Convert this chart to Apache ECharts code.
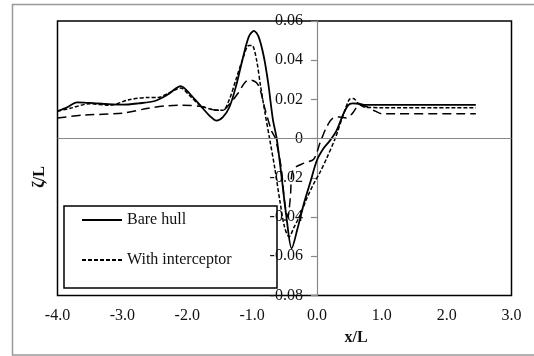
<!DOCTYPE html>
<html>
<head>
<meta charset="utf-8">
<title>Wave profile</title>
<script src="https://cdn.jsdelivr.net/npm/echarts@6/dist/echarts.min.js"></script>
<style>
  html, body { margin: 0; padding: 0; background: #fff; }
  #chart { width: 534px; height: 356px; }
</style>
</head>
<body>
<div id="chart"></div>
<script>
// x/L ticks
const xTicks = [-4, -3, -2, -1, 0, 1, 2, 3];

// Bare hull (solid)
const bareX = [-4.0, -3.85, -3.7, -3.5, -3.3, -3.0, -2.75, -2.5, -2.3, -2.1, -1.95, -1.8, -1.65, -1.55, -1.45, -1.35, -1.25, -1.15, -1.05, -0.97, -0.9, -0.82, -0.75, -0.68, -0.62, -0.55, -0.47, -0.39, -0.3, -0.2, -0.1, 0.0, 0.1, 0.2, 0.3, 0.4, 0.48, 0.55, 0.65, 0.75, 1.0, 2.45];
const bareY = [0.0140, 0.0160, 0.0185, 0.0182, 0.0178, 0.0173, 0.0180, 0.0192, 0.0225, 0.0268, 0.0225, 0.0170, 0.0115, 0.0092, 0.0110, 0.0160, 0.0265, 0.0400, 0.0520, 0.0550, 0.0520, 0.0420, 0.0280, 0.0100, 0.0000, -0.0180, -0.0400, -0.0560, -0.0460, -0.0330, -0.0220, -0.0110, -0.0050, -0.0010, 0.0040, 0.0120, 0.0170, 0.0180, 0.0178, 0.0172, 0.0172, 0.0172];

// With interceptor (short dash)
const interX = [-4.0, -3.8, -3.5, -3.2, -2.9, -2.6, -2.45, -2.3, -2.1, -1.95, -1.8, -1.6, -1.45, -1.35, -1.25, -1.15, -1.05, -1.0, -0.93, -0.87, -0.8, -0.73, -0.65, -0.57, -0.5, -0.43, -0.35, -0.26, -0.15, -0.05, 0.05, 0.15, 0.28, 0.4, 0.5, 0.56, 0.65, 0.75, 1.0, 2.45];
const interY = [0.0140, 0.0155, 0.0178, 0.0170, 0.0198, 0.0210, 0.0210, 0.0230, 0.0258, 0.0215, 0.0170, 0.0148, 0.0145, 0.0200, 0.0300, 0.0400, 0.0475, 0.0475, 0.0400, 0.0270, 0.0130, 0.0000, -0.0150, -0.0320, -0.0450, -0.0500, -0.0450, -0.0390, -0.0300, -0.0230, -0.0170, -0.0100, 0.0000, 0.0115, 0.0200, 0.0205, 0.0175, 0.0160, 0.0158, 0.0158];

// third case (long dash, not in legend)
const longX = [-4.0, -3.6, -3.0, -2.6, -2.3, -2.1, -1.8, -1.55, -1.45, -1.35, -1.22, -1.1, -1.02, -0.9, -0.8, -0.7, -0.64, -0.55, -0.5, -0.45, -0.41, -0.37, -0.2, -0.05, 0.05, 0.15, 0.25, 0.35, 0.45, 0.55, 0.65, 0.75, 0.9, 1.0, 2.45];
const longY = [0.0105, 0.0120, 0.0130, 0.0155, 0.0168, 0.0170, 0.0165, 0.0145, 0.0145, 0.0175, 0.0230, 0.0290, 0.0298, 0.0270, 0.0150, 0.0040, 0.0000, -0.0150, -0.0320, -0.0400, -0.0300, -0.0160, -0.0125, -0.0105, -0.0020, 0.0060, 0.0105, 0.0110, 0.0105, 0.0130, 0.0170, 0.0165, 0.0140, 0.0127, 0.0127];

const zip = (xs, ys) => xs.map((x, i) => [x, ys[i]]);
const serif = '"Liberation Serif", "DejaVu Serif", serif';

// grid box in px
const gridLeft = 57.5, gridRight = 22.5, chartW = 534;
const plotW = chartW - gridLeft - gridRight;
// shift the y axis over to x = 0
const yAxisOffset = -plotW * (0 - xTicks[0]) / (xTicks[xTicks.length - 1] - xTicks[0]);

const chart = echarts.init(document.getElementById('chart'), null, { renderer: 'canvas' });

chart.setOption({
  animation: false,
  backgroundColor: '#fff',
  color: ['#000', '#000', '#000'],
  grid: {
    left: gridLeft, top: 21, right: gridRight, bottom: 60.5,
    show: true,
    borderColor: '#000',
    borderWidth: 1.5
  },
  legend: {
    data: ['Bare hull', 'With interceptor'],
    orient: 'vertical',
    left: 76,
    top: 207,
    itemWidth: 40,
    itemHeight: 14,
    itemGap: 24,
    itemStyle: { opacity: 0 },
    textStyle: { fontFamily: serif, fontSize: 16, color: '#111' }
  },
  xAxis: {
    type: 'value',
    min: xTicks[0],
    max: xTicks[xTicks.length - 1],
    interval: 1,
    axisLine: { show: false, onZero: false },
    axisTick: { show: false },
    splitLine: { show: false },
    axisLabel: {
      margin: 12,
      fontFamily: serif, fontSize: 16, color: '#111',
      formatter: v => v.toFixed(1)
    }
  },
  yAxis: {
    type: 'value',
    min: -0.08,
    max: 0.06,
    interval: 0.02,
    offset: yAxisOffset,
    axisLine: { show: true, onZero: false, lineStyle: { color: '#888', width: 1.2 } },
    axisTick: { show: true, length: 6, lineStyle: { color: '#888', width: 1.2 } },
    splitLine: { show: false },
    axisLabel: {
      margin: 14,
      fontFamily: serif, fontSize: 16, color: '#111',
      formatter: v => Math.abs(v) < 1e-9 ? '0' : v.toFixed(2)
    }
  },
  series: [
    {
      name: 'Case 3',
      type: 'line',
      data: zip(longX, longY),
      smooth: 0.3,
      symbol: 'none',
      itemStyle: { color: '#000' },
      lineStyle: { color: '#000', width: 1.5, type: [9, 5] },
      markLine: {
        silent: true,
        symbol: 'none',
        label: { show: false },
        lineStyle: { color: '#888', width: 1.2, type: 'solid' },
        data: [{ yAxis: 0 }]
      },
      z: 2
    },
    {
      name: 'With interceptor',
      type: 'line',
      data: zip(interX, interY),
      smooth: 0.3,
      symbol: 'none',
      itemStyle: { color: '#000' },
      lineStyle: { color: '#000', width: 1.5, type: [4, 2] },
      z: 3
    },
    {
      name: 'Bare hull',
      type: 'line',
      data: zip(bareX, bareY),
      smooth: 0.3,
      symbol: 'none',
      itemStyle: { color: '#000' },
      lineStyle: { color: '#000', width: 1.8 },
      z: 4
    }
  ],
  graphic: [
    // outer frame
    {
      type: 'rect', z: -1,
      shape: { x: 12.5, y: 4.5, width: 540, height: 350.5 },
      style: { fill: 'none', stroke: '#999', lineWidth: 1.5 }
    },
    // legend box
    {
      type: 'rect',
      shape: { x: 64, y: 206, width: 213, height: 82 },
      style: { fill: 'none', stroke: '#000', lineWidth: 1.5 }
    },
    {
      type: 'text',
      x: 356, y: 338,
      style: {
        text: 'x/L', fontFamily: serif, fontSize: 16, fontWeight: 'bold',
        fill: '#111', align: 'center', verticalAlign: 'middle'
      }
    },
    {
      type: 'text',
      x: 40, y: 177,
      rotation: Math.PI / 2,
      style: {
        text: 'ζ/L', fontFamily: serif, fontSize: 16, fontWeight: 'bold',
        fill: '#111', align: 'center', verticalAlign: 'middle'
      }
    }
  ]
});
</script>
</body>
</html>
